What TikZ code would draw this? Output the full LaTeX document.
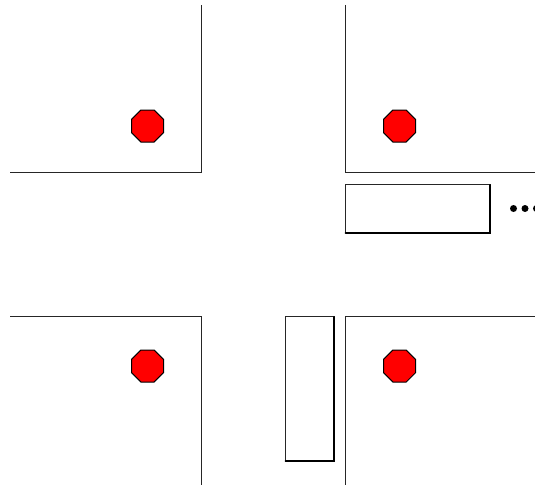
\documentclass[tikz,border=0pt]{standalone}
\tikzset{
  kerb/.style={draw=black!85,line width=0.8pt},
  carbox/.style={draw=black!85,line width=0.8pt,fill=white},
  carshade/.style={draw=black,line width=1.2pt},
  stopsign/.style={draw=black,line width=0.75pt,fill=red},
  dotmark/.style={fill=black}
}
\begin{document}
\begin{tikzpicture}[x=0.75pt,y=-0.75pt]
\useasboundingbox (0,0) rectangle (535,485);
\clip (0,0) rectangle (535,485);
% kerbs
\draw[kerb] (10,172.9) -- (201.5,172.9) -- (201.5,5);
\draw[kerb] (345.5,5) -- (345.5,172.9) -- (535,172.9);
\draw[kerb] (10,316.9) -- (201.5,316.9) -- (201.5,485);
\draw[kerb] (535,316.9) -- (345.5,316.9) -- (345.5,485);
% stop signs
\foreach \cx/\cy in {147.5/126,399.5/126,147.5/366,399.5/366}{
  \draw[stopsign] (\cx-16,\cy-6.7) -- (\cx-6.7,\cy-16) -- (\cx+6.7,\cy-16) -- (\cx+16,\cy-6.7)
    -- (\cx+16,\cy+6.7) -- (\cx+6.7,\cy+16) -- (\cx-6.7,\cy+16) -- (\cx-16,\cy+6.7) -- cycle;
}
% cars
\draw[carbox] (345.5,184.9) rectangle (490,232.9);
\draw[carshade,line cap=round] (345.5,233) -- (490.1,233) -- (490.1,184.9);
\draw[carbox] (285.5,316.9) rectangle (334,461);
\draw[carshade,line cap=round] (285.5,461) -- (334.1,461) -- (334.1,316.9);
% ellipsis dots
\foreach \dx in {513.5,525,536.5}{
  \fill[dotmark] (\dx,208.5) circle [radius=3.5];
}
\end{tikzpicture}
\end{document}
